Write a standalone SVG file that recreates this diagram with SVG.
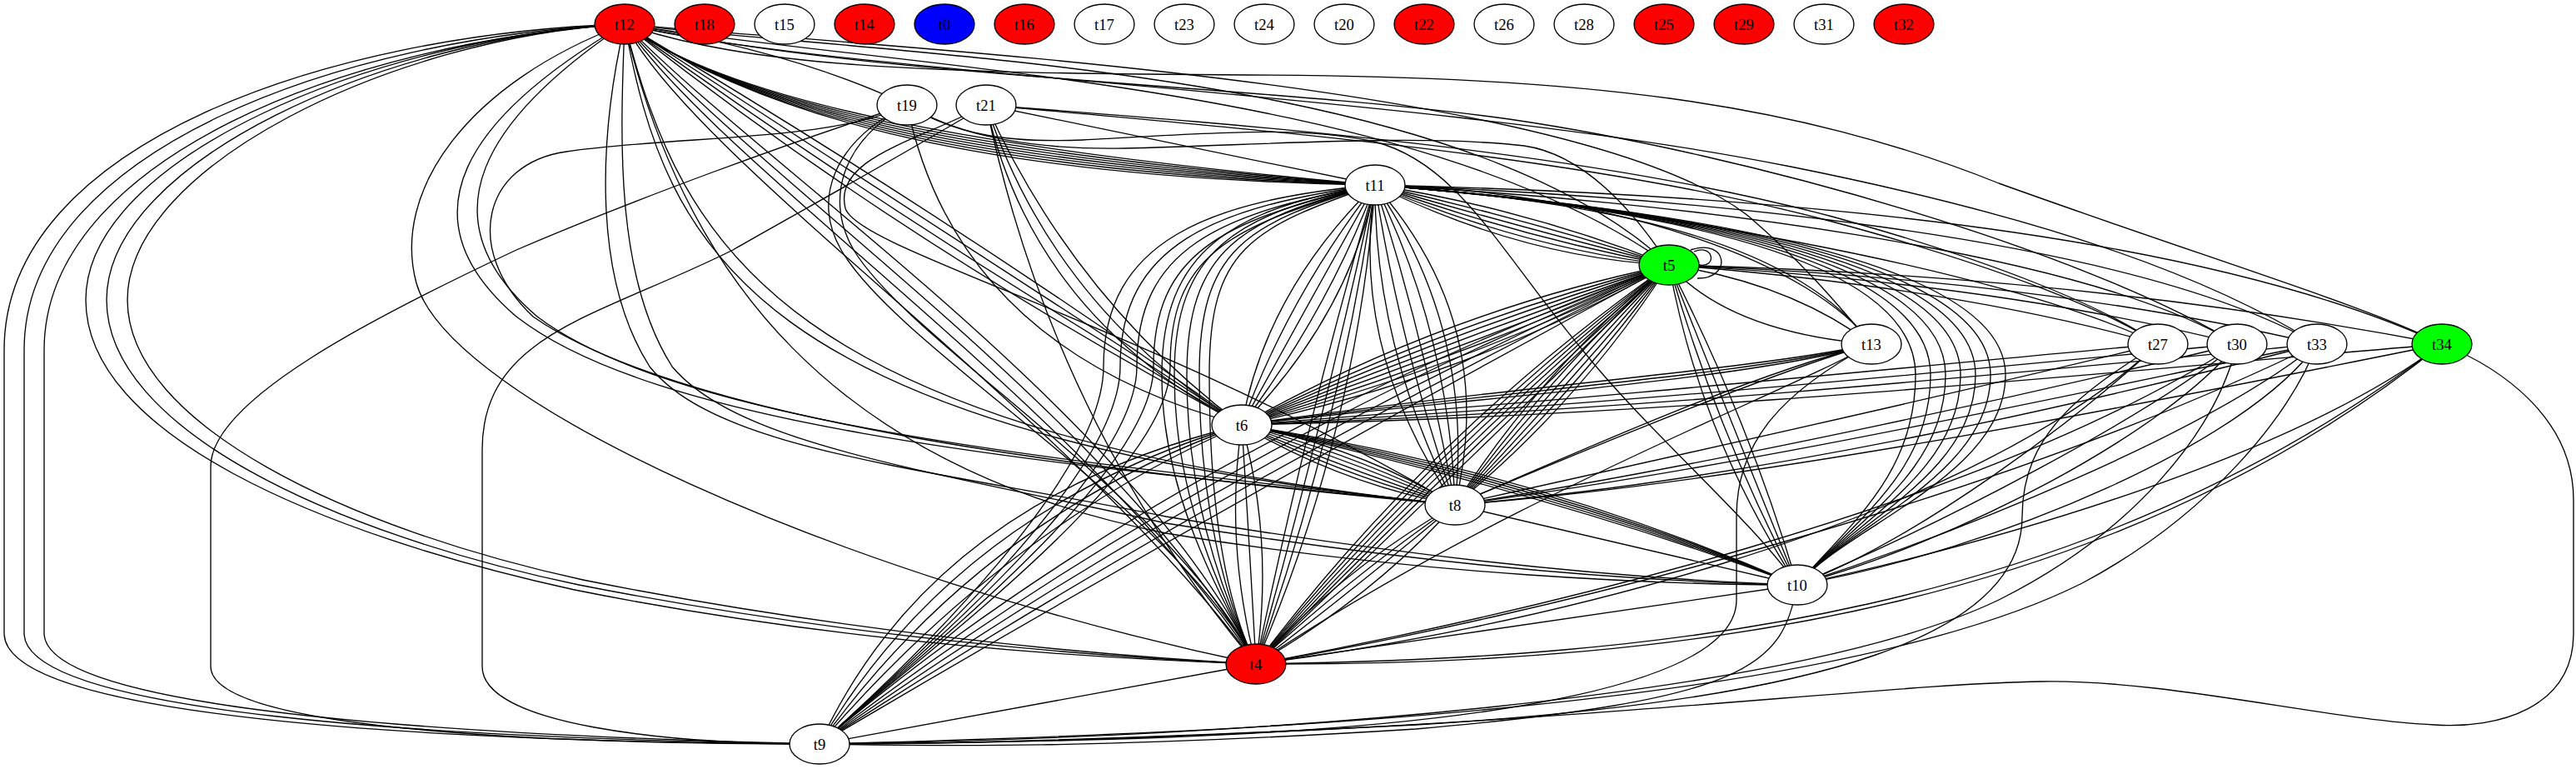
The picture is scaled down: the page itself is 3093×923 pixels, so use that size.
<svg xmlns="http://www.w3.org/2000/svg" width="3093" height="923" viewBox="0 0 3093 923">
<style>
.e{fill:none;stroke:#000;stroke-width:1.33}
.n ellipse{stroke:#000;stroke-width:1.33}
.n text{font-family:"Liberation Serif","Times New Roman",serif;font-size:18.67px;text-anchor:middle;fill:#000}
</style>
<rect x="0" y="0" width="3093" height="923" fill="#fff"/>
<g id="edges">
<path class="e" d="M750,29 C400,40 5,170 5,420 L5,760 C5,860 500,890 984,893"/>
<path class="e" d="M750,29 C410,45 29,180 29,420 L29,760 C29,855 510,886 984,893"/>
<path class="e" d="M750,29 C420,50 53,190 53,420 L53,760 C53,850 520,882 984,893"/>
<path class="e" d="M750,29 C450,45 103,190 103,360 C103,520 380,640 690,708 C1000,770 1300,790 1508,797"/>
<path class="e" d="M750,29 C460,45 128,195 128,360 C128,515 400,640 695,702 C1000,762 1300,788 1508,797"/>
<path class="e" d="M750,29 C470,45 153,200 153,360 C153,510 420,635 700,696 C1000,756 1300,786 1508,797"/>
<path class="e" d="M750,29 C560,100 470,230 500,340 C540,480 1000,690 1508,797"/>
<path class="e" d="M750,29 C840,200 1290,500 1508,797"/>
<path class="e" d="M750,29 C865,200 1315,500 1508,797"/>
<path class="e" d="M750,29 C890,200 1340,500 1508,797"/>
<path class="e" d="M750,29 C915,200 1365,500 1508,797"/>
<path class="e" d="M750,29 C560,140 480,260 620,380 C800,520 1300,560 1747,606"/>
<path class="e" d="M750,29 C585,140 505,260 645,380 C820,512 1300,555 1747,606"/>
<path class="e" d="M1089,126 C1000,170 820,162 680,182 C580,196 555,300 640,380 C820,505 1300,565 1747,606"/>
<path class="e" d="M750,29 C800,300 900,520 1747,606"/>
<path class="e" d="M750,29 C820,300 940,520 1747,606"/>
<path class="e" d="M750,29 C720,160 710,330 780,440 C860,540 1100,560 1400,620 C1700,670 1950,695 2158,702"/>
<path class="e" d="M750,29 C745,160 737,330 807,440 C887,535 1120,565 1400,628 C1700,676 1950,698 2158,702"/>
<path class="e" d="M750,29 C820,330 1000,560 1400,640 C1700,690 2000,702 2158,702"/>
<path class="e" d="M750,29 Q1080,290 1491,510"/>
<path class="e" d="M750,29 Q1100,280 1491,510"/>
<path class="e" d="M750,29 Q1120,270 1491,510"/>
<path class="e" d="M750,29 Q1140,260 1491,510"/>
<path class="e" d="M750,29 C870,118 1150,178 1651,222"/>
<path class="e" d="M750,29 C875,120 1150,184 1651,222"/>
<path class="e" d="M750,29 C880,122 1150,190 1651,222"/>
<path class="e" d="M750,29 C885,124 1150,196 1651,222"/>
<path class="e" d="M750,29 C890,126 1150,202 1651,222"/>
<path class="e" d="M750,29 C895,128 1150,208 1651,222"/>
<path class="e" d="M750,29 C900,130 1150,214 1651,222"/>
<path class="e" d="M750,29 C1100,70 1750,80 2004,318"/>
<path class="e" d="M750,29 C1100,85 1700,100 2004,318"/>
<path class="e" d="M750,29 Q950,60 1089,126"/>
<path class="e" d="M750,29 C900,80 1100,88 1500,90 C1900,92 2150,120 2400,220 C2650,310 2850,370 2932,413"/>
<path class="e" d="M750,29 C1000,90 1700,110 2150,200 C2450,260 2650,330 2782,413"/>
<path class="e" d="M750,29 C1050,95 1500,100 1812,143 C2100,185 2500,300 2686,413"/>
<path class="e" d="M750,29 C1100,60 1900,100 2100,260 C2170,320 2210,370 2247,413"/>
<path class="e" d="M1184,126 C1500,150 1900,180 2200,260 C2400,315 2530,370 2591,413"/>
<path class="e" d="M1184,126 C1500,155 1900,186 2200,266 C2400,320 2530,372 2591,413"/>
<path class="e" d="M1184,126 L1651,222"/>
<path class="e" d="M1184,126 C1050,205 950,260 880,300 C720,380 579,400 579,540 L579,800 C579,870 800,893 984,893"/>
<path class="e" d="M1089,126 C950,170 760,240 620,300 C450,380 253,480 253,560 L253,800 C253,880 700,893 984,893"/>
<path class="e" d="M1089,126 C1000,170 975,240 1010,300 C1080,420 1400,600 1508,797"/>
<path class="e" d="M1089,126 C1010,170 990,240 1025,300 C1095,415 1410,600 1508,797"/>
<path class="e" d="M1184,126 C1100,170 1000,190 1015,250 C1030,300 1380,390 1747,606"/>
<path class="e" d="M1184,126 Q1240,380 1491,510"/>
<path class="e" d="M1184,126 Q1265,370 1491,510"/>
<path class="e" d="M1184,126 Q1290,360 1491,510"/>
<path class="e" d="M1184,126 C1220,300 1300,550 1508,797"/>
<path class="e" d="M1089,126 Q1150,420 1491,510"/>
<path class="e" d="M1089,126 C1150,160 1200,172 1300,168 C1450,160 1560,150 1650,170 C1750,195 1800,300 1900,420 C1980,520 2100,620 2158,702"/>
<path class="e" d="M1089,126 C1150,165 1250,180 1350,178 C1500,175 1700,160 1830,175 C1900,185 1960,250 2004,318"/>
<path class="e" d="M1651,222 Q1520,350 1491,510"/>
<path class="e" d="M1651,222 Q1545,360 1491,510"/>
<path class="e" d="M1651,222 Q1570,366 1491,510"/>
<path class="e" d="M1651,222 Q1595,372 1491,510"/>
<path class="e" d="M1651,222 Q1620,378 1491,510"/>
<path class="e" d="M1651,222 C1450,240 1325,290 1325,440 C1325,570 1100,790 984,893"/>
<path class="e" d="M1651,222 C1455,248 1345,295 1345,440 C1345,570 1100,790 984,893"/>
<path class="e" d="M1651,222 C1460,256 1365,300 1365,440 C1365,570 1100,790 984,893"/>
<path class="e" d="M1651,222 C1465,264 1385,305 1385,440 C1385,570 1100,790 984,893"/>
<path class="e" d="M1651,222 C1470,272 1405,310 1405,440 C1405,570 1100,790 984,893"/>
<path class="e" d="M1651,222 C1480,250 1395,300 1395,450 C1395,600 1470,720 1508,797"/>
<path class="e" d="M1651,222 C1485,256 1410,300 1410,450 C1410,600 1470,720 1508,797"/>
<path class="e" d="M1651,222 C1490,262 1425,300 1425,450 C1425,600 1470,720 1508,797"/>
<path class="e" d="M1651,222 C1495,268 1440,300 1440,450 C1440,600 1470,720 1508,797"/>
<path class="e" d="M1651,222 C1500,274 1452,300 1452,450 C1452,600 1470,720 1508,797"/>
<path class="e" d="M1651,222 Q1570,500 1508,797"/>
<path class="e" d="M1651,222 Q1590,505 1508,797"/>
<path class="e" d="M1651,222 Q1610,510 1508,797"/>
<path class="e" d="M1651,222 Q1630,515 1508,797"/>
<path class="e" d="M1651,222 Q1620,420 1747,606"/>
<path class="e" d="M1651,222 Q1650,415 1747,606"/>
<path class="e" d="M1651,222 Q1680,410 1747,606"/>
<path class="e" d="M1651,222 Q1710,405 1747,606"/>
<path class="e" d="M1651,222 Q1740,400 1747,606"/>
<path class="e" d="M1651,222 Q1770,395 1747,606"/>
<path class="e" d="M1651,222 Q1800,390 1747,606"/>
<path class="e" d="M1651,222 C1950,245 2300,300 2300,450 C2300,570 2220,630 2158,702"/>
<path class="e" d="M1651,222 C1950,245 2318,300 2318,450 C2318,570 2220,630 2158,702"/>
<path class="e" d="M1651,222 C1950,245 2336,300 2336,450 C2336,570 2220,630 2158,702"/>
<path class="e" d="M1651,222 C1950,245 2354,300 2354,450 C2354,570 2220,630 2158,702"/>
<path class="e" d="M1651,222 C1950,245 2372,300 2372,450 C2372,570 2220,630 2158,702"/>
<path class="e" d="M1651,222 C1950,245 2390,300 2390,450 C2390,570 2220,630 2158,702"/>
<path class="e" d="M1651,222 C1950,245 2408,300 2408,450 C2408,570 2220,630 2158,702"/>
<path class="e" d="M1651,222 C2000,230 2600,260 2932,413"/>
<path class="e" d="M1651,222 C2000,235 2550,280 2782,413"/>
<path class="e" d="M1651,222 C2000,240 2500,300 2686,413"/>
<path class="e" d="M1651,222 C1950,245 2400,320 2591,413"/>
<path class="e" d="M1651,222 C1900,240 2150,280 2247,413"/>
<path class="e" d="M2247,413 C2180,320 1950,230 1651,222"/>
<path class="e" d="M1651,222 Q1830,250 2004,318"/>
<path class="e" d="M1651,222 Q1830,262 2004,318"/>
<path class="e" d="M1651,222 Q1830,274 2004,318"/>
<path class="e" d="M1651,222 Q1830,286 2004,318"/>
<path class="e" d="M1651,222 Q1830,298 2004,318"/>
<path class="e" d="M1651,222 Q1830,310 2004,318"/>
<path class="e" d="M2004,318 Q1732,374 1491,510"/>
<path class="e" d="M2004,318 Q1737,386 1491,510"/>
<path class="e" d="M2004,318 Q1741,397 1491,510"/>
<path class="e" d="M2004,318 Q1745,408 1491,510"/>
<path class="e" d="M2004,318 Q1749,420 1491,510"/>
<path class="e" d="M2004,318 Q1754,431 1491,510"/>
<path class="e" d="M2004,318 Q1758,442 1491,510"/>
<path class="e" d="M2004,318 Q1762,454 1491,510"/>
<path class="e" d="M2004,318 Q1400,540 984,893"/>
<path class="e" d="M2004,318 Q1420,555 984,893"/>
<path class="e" d="M2004,318 Q1440,570 984,893"/>
<path class="e" d="M2004,318 Q1460,585 984,893"/>
<path class="e" d="M2004,318 Q1480,600 984,893"/>
<path class="e" d="M2004,318 Q1716,520 1508,797"/>
<path class="e" d="M2004,318 Q1724,528 1508,797"/>
<path class="e" d="M2004,318 Q1732,536 1508,797"/>
<path class="e" d="M2004,318 Q1740,544 1508,797"/>
<path class="e" d="M2004,318 Q1748,552 1508,797"/>
<path class="e" d="M2004,318 Q1756,560 1508,797"/>
<path class="e" d="M2004,318 Q1852,442 1747,606"/>
<path class="e" d="M2004,318 Q1861,450 1747,606"/>
<path class="e" d="M2004,318 Q1870,458 1747,606"/>
<path class="e" d="M2004,318 Q1880,466 1747,606"/>
<path class="e" d="M2004,318 Q1889,474 1747,606"/>
<path class="e" d="M2004,318 Q1898,482 1747,606"/>
<path class="e" d="M2004,318 Q2040,520 2158,702"/>
<path class="e" d="M2004,318 Q2060,515 2158,702"/>
<path class="e" d="M2004,318 Q2080,510 2158,702"/>
<path class="e" d="M2004,318 Q2100,505 2158,702"/>
<path class="e" d="M2030,300 C2075,285 2080,335 2038,334"/>
<path class="e" d="M2034,302 C2058,292 2062,322 2040,318"/>
<path class="e" d="M2004,318 Q2150,340 2247,413"/>
<path class="e" d="M2004,318 C2060,380 2150,405 2247,413"/>
<path class="e" d="M2004,318 Q2500,330 2932,413"/>
<path class="e" d="M2004,318 Q2450,335 2782,413"/>
<path class="e" d="M2004,318 Q2400,340 2686,413"/>
<path class="e" d="M2004,318 Q2350,345 2591,413"/>
<path class="e" d="M1491,510 Q1628,535 1747,606"/>
<path class="e" d="M1491,510 Q1624,544 1747,606"/>
<path class="e" d="M1491,510 Q1621,553 1747,606"/>
<path class="e" d="M1491,510 Q1617,563 1747,606"/>
<path class="e" d="M1491,510 Q1614,572 1747,606"/>
<path class="e" d="M1491,510 Q1610,581 1747,606"/>
<path class="e" d="M1491,510 Q1830,560 2158,702"/>
<path class="e" d="M1491,510 Q1838,568 2158,702"/>
<path class="e" d="M1491,510 Q1846,576 2158,702"/>
<path class="e" d="M1491,510 Q1854,584 2158,702"/>
<path class="e" d="M1491,510 Q1862,592 2158,702"/>
<path class="e" d="M1491,510 Q1120,600 984,893"/>
<path class="e" d="M1491,510 Q1150,610 984,893"/>
<path class="e" d="M1491,510 Q1180,620 984,893"/>
<path class="e" d="M1491,510 Q1210,630 984,893"/>
<path class="e" d="M1491,510 Q1470,650 1508,797"/>
<path class="e" d="M1491,510 Q1500,650 1508,797"/>
<path class="e" d="M1491,510 Q1530,650 1508,797"/>
<path class="e" d="M1747,606 Q1615,680 1508,797"/>
<path class="e" d="M1747,606 Q1625,690 1508,797"/>
<path class="e" d="M1747,606 Q1635,700 1508,797"/>
<path class="e" d="M1747,606 Q1650,715 1508,797"/>
<path class="e" d="M1747,606 L2158,702"/>
<path class="e" d="M2158,702 L1508,797"/>
<path class="e" d="M2158,702 C2140,800 2100,840 1700,875 C1300,900 1100,895 984,893"/>
<path class="e" d="M1508,797 L984,893"/>
<path class="e" d="M1491,510 C1800,465 2100,445 2247,413"/>
<path class="e" d="M1491,510 C1800,470 2100,450 2247,413"/>
<path class="e" d="M1491,510 C1800,475 2100,455 2247,413"/>
<path class="e" d="M1491,510 C1900,480 2300,440 2591,413"/>
<path class="e" d="M1491,510 C1900,490 2400,440 2686,413"/>
<path class="e" d="M1491,510 C1950,495 2450,445 2782,413"/>
<path class="e" d="M1491,510 C2000,500 2500,450 2932,413"/>
<path class="e" d="M1747,606 C2100,580 2600,480 2932,413"/>
<path class="e" d="M1747,606 C2100,560 2500,470 2782,413"/>
<path class="e" d="M1747,606 C2120,575 2520,480 2782,413"/>
<path class="e" d="M1747,606 C2050,560 2450,470 2686,413"/>
<path class="e" d="M1747,606 C2000,550 2400,460 2591,413"/>
<path class="e" d="M1747,606 C1950,520 2150,440 2247,413"/>
<path class="e" d="M2158,702 C2400,650 2750,550 2932,413"/>
<path class="e" d="M2158,702 C2350,640 2650,520 2782,413"/>
<path class="e" d="M2158,702 C2400,660 2700,530 2782,413"/>
<path class="e" d="M2158,702 C2350,650 2600,520 2686,413"/>
<path class="e" d="M2158,702 C2330,630 2580,500 2686,413"/>
<path class="e" d="M2158,702 C2300,650 2500,500 2591,413"/>
<path class="e" d="M1508,797 C2000,790 2500,740 2932,413"/>
<path class="e" d="M1508,797 C2050,800 2550,720 2932,413"/>
<path class="e" d="M1508,797 C1850,740 2400,600 2782,413"/>
<path class="e" d="M1508,797 C1820,740 2380,610 2686,413"/>
<path class="e" d="M1508,797 C1800,760 2350,640 2591,413"/>
<path class="e" d="M984,893 C1500,880 2200,850 2500,700 C2650,620 2750,500 2782,413"/>
<path class="e" d="M984,893 C1500,885 2150,840 2400,720 C2560,640 2660,520 2686,413"/>
<path class="e" d="M2591,413 C2500,470 2428,520 2428,620 C2428,760 2200,840 1700,870 C1300,890 1100,893 984,893"/>
<path class="e" d="M2932,413 C3000,440 3090,500 3090,600 L3090,760 C3090,850 3000,875 2923,870 C2800,865 2600,815 2451,818 C2300,820 2000,855 1600,875 C1300,890 1100,893 984,893"/>
<path class="e" d="M2247,413 C2140,470 2085,530 2085,620 L2085,720 C2085,820 1800,870 1400,885 C1200,892 1050,893 984,893"/>
<path class="e" d="M2247,413 C2150,470 1800,600 1508,797"/>
<path class="e" d="M2247,413 C2100,450 1900,540 1747,606"/>
</g>
<g id="t12" class="n"><ellipse cx="750" cy="29" rx="36" ry="24" fill="#ff0000"/><text x="750" y="35.5">t12</text></g>
<g id="t18" class="n"><ellipse cx="846" cy="29" rx="36" ry="24" fill="#ff0000"/><text x="846" y="35.5">t18</text></g>
<g id="t15" class="n"><ellipse cx="942" cy="29" rx="36" ry="24" fill="#fff"/><text x="942" y="35.5">t15</text></g>
<g id="t14" class="n"><ellipse cx="1038" cy="29" rx="36" ry="24" fill="#ff0000"/><text x="1038" y="35.5">t14</text></g>
<g id="t0" class="n"><ellipse cx="1134" cy="29" rx="36" ry="24" fill="#0000ff"/><text x="1134" y="35.5">t0</text></g>
<g id="t16" class="n"><ellipse cx="1230" cy="29" rx="36" ry="24" fill="#ff0000"/><text x="1230" y="35.5">t16</text></g>
<g id="t17" class="n"><ellipse cx="1326" cy="29" rx="36" ry="24" fill="#fff"/><text x="1326" y="35.5">t17</text></g>
<g id="t23" class="n"><ellipse cx="1422" cy="29" rx="36" ry="24" fill="#fff"/><text x="1422" y="35.5">t23</text></g>
<g id="t24" class="n"><ellipse cx="1518" cy="29" rx="36" ry="24" fill="#fff"/><text x="1518" y="35.5">t24</text></g>
<g id="t20" class="n"><ellipse cx="1614" cy="29" rx="36" ry="24" fill="#fff"/><text x="1614" y="35.5">t20</text></g>
<g id="t22" class="n"><ellipse cx="1710" cy="29" rx="36" ry="24" fill="#ff0000"/><text x="1710" y="35.5">t22</text></g>
<g id="t26" class="n"><ellipse cx="1806" cy="29" rx="36" ry="24" fill="#fff"/><text x="1806" y="35.5">t26</text></g>
<g id="t28" class="n"><ellipse cx="1902" cy="29" rx="36" ry="24" fill="#fff"/><text x="1902" y="35.5">t28</text></g>
<g id="t25" class="n"><ellipse cx="1998" cy="29" rx="36" ry="24" fill="#ff0000"/><text x="1998" y="35.5">t25</text></g>
<g id="t29" class="n"><ellipse cx="2094" cy="29" rx="36" ry="24" fill="#ff0000"/><text x="2094" y="35.5">t29</text></g>
<g id="t31" class="n"><ellipse cx="2190" cy="29" rx="36" ry="24" fill="#fff"/><text x="2190" y="35.5">t31</text></g>
<g id="t32" class="n"><ellipse cx="2286" cy="29" rx="36" ry="24" fill="#ff0000"/><text x="2286" y="35.5">t32</text></g>
<g id="t19" class="n"><ellipse cx="1089" cy="126" rx="36" ry="24" fill="#fff"/><text x="1089" y="132.5">t19</text></g>
<g id="t21" class="n"><ellipse cx="1184" cy="126" rx="36" ry="24" fill="#fff"/><text x="1184" y="132.5">t21</text></g>
<g id="t11" class="n"><ellipse cx="1651" cy="222" rx="36" ry="24" fill="#fff"/><text x="1651" y="228.5">t11</text></g>
<g id="t5" class="n"><ellipse cx="2004" cy="318" rx="36" ry="24" fill="#00ff00"/><text x="2004" y="324.5">t5</text></g>
<g id="t13" class="n"><ellipse cx="2247" cy="413" rx="36" ry="24" fill="#fff"/><text x="2247" y="419.5">t13</text></g>
<g id="t27" class="n"><ellipse cx="2591" cy="413" rx="36" ry="24" fill="#fff"/><text x="2591" y="419.5">t27</text></g>
<g id="t30" class="n"><ellipse cx="2686" cy="413" rx="36" ry="24" fill="#fff"/><text x="2686" y="419.5">t30</text></g>
<g id="t33" class="n"><ellipse cx="2782" cy="413" rx="36" ry="24" fill="#fff"/><text x="2782" y="419.5">t33</text></g>
<g id="t34" class="n"><ellipse cx="2932" cy="413" rx="36" ry="24" fill="#00ff00"/><text x="2932" y="419.5">t34</text></g>
<g id="t6" class="n"><ellipse cx="1491" cy="510" rx="36" ry="24" fill="#fff"/><text x="1491" y="516.5">t6</text></g>
<g id="t8" class="n"><ellipse cx="1747" cy="606" rx="36" ry="24" fill="#fff"/><text x="1747" y="612.5">t8</text></g>
<g id="t10" class="n"><ellipse cx="2158" cy="702" rx="36" ry="24" fill="#fff"/><text x="2158" y="708.5">t10</text></g>
<g id="t4" class="n"><ellipse cx="1508" cy="797" rx="36" ry="24" fill="#ff0000"/><text x="1508" y="803.5">t4</text></g>
<g id="t9" class="n"><ellipse cx="984" cy="893" rx="36" ry="24" fill="#fff"/><text x="984" y="899.5">t9</text></g>
</svg>
